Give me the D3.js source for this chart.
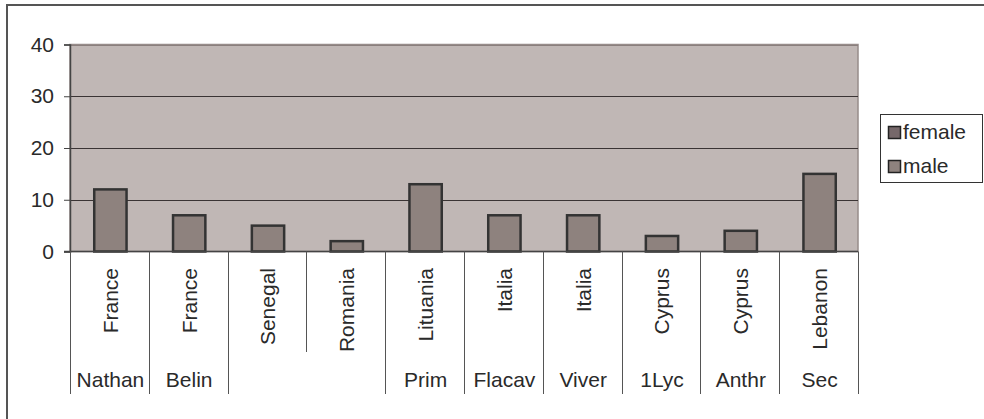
<!DOCTYPE html>
<html>
<head>
<meta charset="utf-8">
<script src="https://cdn.jsdelivr.net/npm/d3@7"></script>
<style>
  html, body { margin: 0; padding: 0; background: #fff; }
  svg { display: block; font-family: "Liberation Sans", Arial, sans-serif; }
</style>
</head>
<body>
<svg id="chart" width="984" height="419"></svg>
<script>
// Countries (first category level) and textbooks (second level)
const countries = ["France", "France", "Senegal", "Romania", "Lituania", "Italia", "Italia", "Cyprus", "Cyprus", "Lebanon"];
const books = ["Nathan", "Belin", "", "", "Prim", "Flacav", "Viver", "1Lyc", "Anthr", "Sec"];
// Series
const seriesNames = ["female", "male"];
const femaleCounts = [null, null, null, null, null, null, null, null, null, null];
const maleCounts = [12, 7, 5, 2, 13, 7, 7, 3, 4, 15];
const yTicks = [0, 10, 20, 30, 40];

const svg = d3.select("#chart");
const plot = { left: 70, right: 858, top: 44.5, bottom: 251.5 };
const colors = { female: "#76686a", male: "#8e827e" };
const textColor = "#2a2a2a";
const fontSize = "21px";

// Outer chart frame (runs off the right and bottom edges)
svg.append("rect")
  .attr("x", 7).attr("y", 5).attr("width", 1000).attr("height", 440)
  .attr("fill", "#fff").attr("stroke", "#555").attr("stroke-width", 2);

const x = d3.scaleBand().domain(d3.range(countries.length)).range([plot.left, plot.right]).padding(0);
const y = d3.scaleLinear().domain([0, 40]).range([plot.bottom, plot.top]);

// Plot area
svg.append("rect")
  .attr("x", plot.left).attr("y", plot.top)
  .attr("width", plot.right - plot.left).attr("height", plot.bottom - plot.top)
  .attr("fill", "#c0b7b5").attr("stroke", "#978c8a").attr("stroke-width", 1.5);

// Gridlines
svg.append("g").selectAll("line").data(yTicks.filter(t => t > 0)).join("line")
  .attr("x1", plot.left).attr("x2", plot.right)
  .attr("y1", d => Math.round(y(d)) + 0.5).attr("y2", d => Math.round(y(d)) + 0.5)
  .attr("stroke", d => d === 40 ? "#8a7f7d" : "#3a3434").attr("stroke-width", 1);

// Bars (male series)
const barW = x.step() * 0.41;
svg.append("g").selectAll("rect").data(maleCounts).join("rect")
  .attr("x", (d, i) => x(i) + x.step() / 2 - barW / 2 + 1)
  .attr("y", d => y(d))
  .attr("width", barW)
  .attr("height", d => y(0) - y(d))
  .attr("fill", colors.male).attr("stroke", "#333").attr("stroke-width", 2.5);

// Female series has no values to draw
svg.append("g").selectAll("rect").data(femaleCounts.filter(d => d != null)).join("rect");

// Y axis
const yAxis = d3.axisLeft(y).tickValues(yTicks).tickSize(6).tickPadding(10);
const gy = svg.append("g").attr("transform", `translate(${plot.left},0)`).call(yAxis);
gy.select(".domain").attr("stroke", "#444").attr("stroke-width", 1.5);
gy.selectAll(".tick line").attr("stroke", "#444");
gy.selectAll(".tick text").attr("fill", textColor).style("font-size", fontSize)
  .style("font-family", "'Liberation Sans', Arial, sans-serif");

// X axis baseline
svg.append("line")
  .attr("x1", plot.left - 6).attr("x2", plot.right)
  .attr("y1", plot.bottom).attr("y2", plot.bottom)
  .attr("stroke", "#444").attr("stroke-width", 1.5);

// Category separators: short ones inside merged groups, long ones at group edges
const lvl1Bottom = 352, lvl2Bottom = 394;
const edges = d3.range(countries.length + 1);
svg.append("g").selectAll("line").data(edges).join("line")
  .attr("x1", i => Math.round(plot.left + i * x.step()) + 0.5)
  .attr("x2", i => Math.round(plot.left + i * x.step()) + 0.5)
  .attr("y1", plot.bottom)
  .attr("y2", i => {
    const inside = i > 0 && i < books.length && books[i] === "" && books[i - 1] === "";
    return inside ? lvl1Bottom : lvl2Bottom;
  })
  .attr("stroke", "#555").attr("stroke-width", 1);

// Country labels (rotated)
svg.append("g").selectAll("text").data(countries).join("text")
  .attr("transform", (d, i) => `translate(${x(i) + x.step() / 2 + 1},268) rotate(-90)`)
  .attr("dy", "0.35em")
  .attr("text-anchor", "end")
  .attr("fill", textColor).style("font-size", fontSize)
  .text(d => d);

// Book labels (merged where consecutive entries are equal)
const groups = [];
books.forEach((b, i) => {
  const last = groups[groups.length - 1];
  if (last && last.label === b && b === "") last.end = i;
  else groups.push({ label: b, start: i, end: i });
});
svg.append("g").selectAll("text").data(groups).join("text")
  .attr("x", g => (x(g.start) + x(g.end) + x.step()) / 2 + 1)
  .attr("y", 387)
  .attr("text-anchor", "middle")
  .attr("fill", textColor).style("font-size", fontSize)
  .text(g => g.label);

// Legend
const legend = svg.append("g");
legend.append("rect")
  .attr("x", 880.5).attr("y", 114.5).attr("width", 102).attr("height", 68)
  .attr("fill", "#fff").attr("stroke", "#333").attr("stroke-width", 1);
const items = legend.selectAll("g").data(seriesNames).join("g")
  .attr("transform", (d, i) => `translate(888,${126 + i * 34})`);
items.append("rect")
  .attr("x", 0.5).attr("y", 0.5).attr("width", 12).attr("height", 12)
  .attr("fill", d => colors[d]).attr("stroke", "#222").attr("stroke-width", 1.5);
items.append("text")
  .attr("x", 15).attr("y", 12.5)
  .attr("fill", textColor).style("font-size", fontSize)
  .text(d => d);
</script>
</body>
</html>
